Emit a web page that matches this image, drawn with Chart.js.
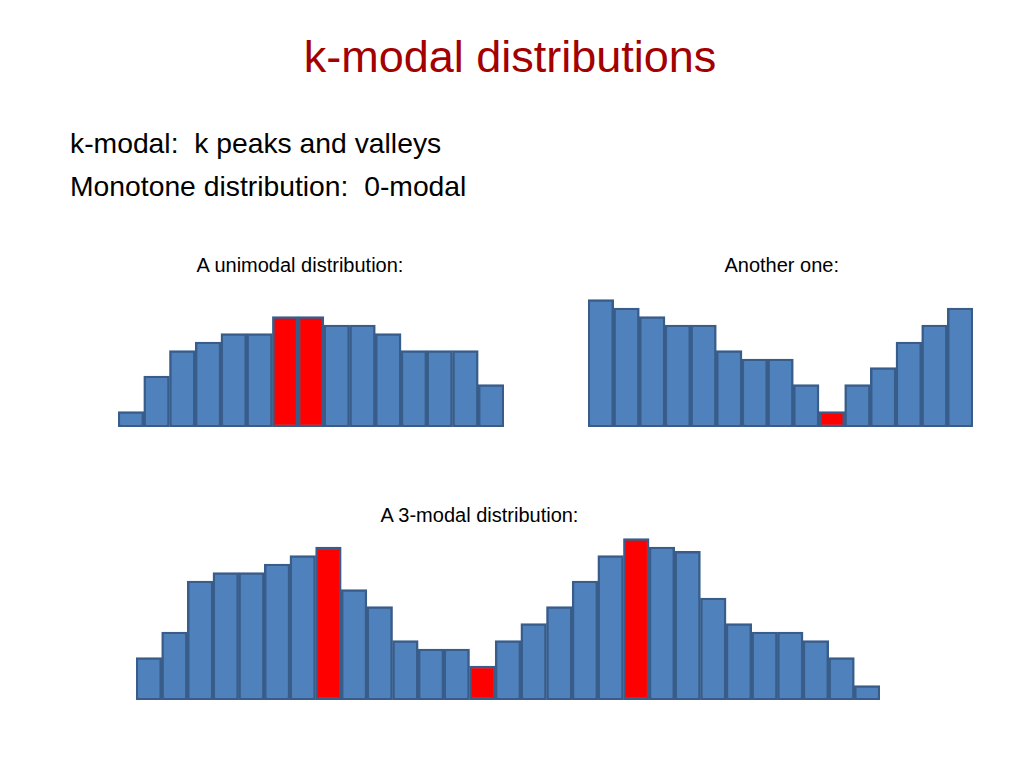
<!DOCTYPE html>
<html>
<head>
<meta charset="utf-8">
<script src="https://cdn.jsdelivr.net/npm/chart.js@4"></script>
<style>
  html, body { margin: 0; padding: 0; background: #fff; }
  #slide { position: relative; width: 1024px; height: 768px; overflow: hidden; font-family: "Liberation Sans", Arial, sans-serif; }
  .txt { position: absolute; white-space: pre; }
  .box { position: absolute; }
</style>
</head>
<body>
<div id="slide">
  <div class="txt" style="left:0; width:1020px; text-align:center; top:33.6px; font-size:45px; line-height:45px; color:#a30000;">k-modal distributions</div>
  <div class="txt" style="left:70px; top:129.3px; font-size:28.3px; line-height:28px; color:#000;">k-modal:  k peaks and valleys</div>
  <div class="txt" style="left:70px; top:172.3px; font-size:28.3px; line-height:28px; color:#000;">Monotone distribution:  0-modal</div>
  <div class="txt" style="left:150px; width:300px; text-align:center; top:254.8px; font-size:20px; line-height:20px;">A unimodal distribution:</div>
  <div class="txt" style="left:631.7px; width:300px; text-align:center; top:254.8px; font-size:20px; line-height:20px;">Another one:</div>
  <div class="txt" style="left:329.5px; width:300px; text-align:center; top:505.4px; font-size:20px; line-height:20px;">A 3-modal distribution:</div>

  <div class="box" style="left:117px; top:290px; width:388px; height:138px;"><canvas id="uniChart"></canvas></div>
  <div class="box" style="left:587px; top:290px; width:387px; height:138px;"><canvas id="anotherChart"></canvas></div>
  <div class="box" style="left:134.5px; top:529px; width:746px; height:172px;"><canvas id="triChart"></canvas></div>
</div>
<script>
// bar heights, in grid units
const uniValues = [1.8, 6, 9, 10, 11, 11, 13, 13, 12, 12, 11, 9, 9, 9, 5];
const uniPeaks = [6, 7];

const anotherValues = [15, 14, 13, 12, 12, 9, 8, 8, 5, 1.8, 5, 7, 10, 12, 14];
const anotherPeaks = [9];

const triValues = [5, 8, 14, 15, 15, 16, 17, 18, 13, 11, 7, 6, 6, 4, 7, 9, 11, 14, 17, 19, 18, 17.5, 12, 9, 8, 8, 7, 5, 1.7];
const triPeaks = [7, 13, 19];

const blue = '#4f81bd';
const red = '#ff0000';
const edge = '#385d8a';

function renderHistogram(id, values, peaks, yMax) {
  const ctx = document.getElementById(id).getContext('2d');
  return new Chart(ctx, {
    type: 'bar',
    data: {
      labels: values.map((v, i) => String(i + 1)),
      datasets: [{
        data: values,
        backgroundColor: values.map((v, i) => peaks.includes(i) ? red : blue),
        borderColor: edge,
        borderWidth: 2.5,
        borderSkipped: false,
        barPercentage: 1,
        categoryPercentage: 1
      }]
    },
    options: {
      responsive: true,
      maintainAspectRatio: false,
      animation: false,
      // 1px padding so the outline sits over the bar edges like the slide shapes
      layout: { padding: { left: 1, right: 1, top: 1, bottom: 1 } },
      plugins: {
        legend: { display: false },
        tooltip: { enabled: false }
      },
      scales: {
        x: { display: false },
        y: { display: false, min: 0, max: yMax }
      }
    }
  });
}

renderHistogram('uniChart', uniValues, uniPeaks, 16);
renderHistogram('anotherChart', anotherValues, anotherPeaks, 16);
renderHistogram('triChart', triValues, triPeaks, 20);
</script>
</body>
</html>
